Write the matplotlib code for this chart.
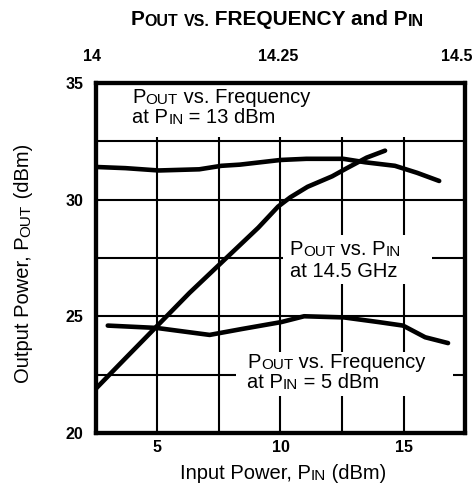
import matplotlib
matplotlib.use("Agg")
import matplotlib.pyplot as plt
import matplotlib.transforms as mtransforms
from matplotlib.patches import Rectangle

plt.rcParams['font.family'] = ['Liberation Sans', 'DejaVu Sans']

# POUT vs. frequency at PIN = 13 dBm (top axis, GHz)
freq_13 = [14.00, 14.04, 14.085, 14.14, 14.17, 14.195, 14.25, 14.285, 14.335, 14.365, 14.405, 14.435, 14.465]
pout_13 = [31.4, 31.35, 31.25, 31.3, 31.45, 31.5, 31.7, 31.75, 31.75, 31.6, 31.45, 31.15, 30.8]

# POUT vs. frequency at PIN = 5 dBm (top axis, GHz)
freq_5 = [14.016, 14.082, 14.154, 14.197, 14.251, 14.282, 14.336, 14.383, 14.416, 14.446, 14.477]
pout_5 = [24.6, 24.5, 24.2, 24.45, 24.75, 25.0, 24.95, 24.75, 24.6, 24.1, 23.85]

# POUT vs. PIN at 14.5 GHz (bottom axis, dBm)
pin = [2.5, 3.7, 5.0, 6.3, 7.5, 8.3, 9.1, 9.9, 10.4, 11.1, 12.1, 12.7, 13.5, 14.25]
pout_pin = [21.9, 23.2, 24.6, 26.0, 27.2, 28.0, 28.8, 29.7, 30.1, 30.55, 31.0, 31.35, 31.8, 32.1]

pin_ticks = [5, 10, 15]
pout_ticks = [20, 25, 30, 35]
freq_ticks = [14, 14.25, 14.5]
freq_labels = ['14', '14.25', '14.5']
grid_x = [5, 7.5, 10, 12.5, 15]
grid_y = [22.5, 25, 27.5, 30, 32.5]

BIG = 14.5
SMALL = 11

fig = plt.figure(figsize=(4.75, 4.97), dpi=100)
ax = fig.add_axes([0.202, 0.129, 0.777, 0.704])
ax.set_xlim(2.5, 17.5)
ax.set_ylim(20, 35)


def rich_text(x, y, runs, transform, vertical=False, **kw):
    # chain text pieces so that "OUT" / "IN" can be set in small caps
    if vertical:
        align = dict(rotation=90, ha='right', va='bottom')
        anchor = (1, 1)
    else:
        align = dict(ha='left', va='baseline')
        anchor = (1, 0)
    s, size = runs[0]
    t = ax.text(x, y, s, fontsize=size, transform=transform, zorder=5, **align, **kw)
    if not vertical:
        align['va'] = 'bottom'
    for s, size in runs[1:]:
        t = ax.annotate(s, xy=anchor, xycoords=t, fontsize=size, zorder=5,
                        annotation_clip=False, **align, **kw)


# grid, broken where the labels sit
ax.hlines(grid_y, 2.5, 17.5, color='black', lw=1.5, zorder=1)
ax.vlines(grid_x, 20, 32.7, color='black', lw=1.5, zorder=1)
ax.add_patch(Rectangle((10.1, 26.4), 6.05, 2.1, facecolor='white', edgecolor='none', zorder=2))
ax.add_patch(Rectangle((8.2, 21.6), 8.8, 1.85, facecolor='white', edgecolor='none', zorder=2))

ax.plot(pin, pout_pin, color='black', lw=3.3, solid_capstyle='round', zorder=3)

ax.set_xticks(pin_ticks)
ax.set_yticks(pout_ticks)
ax.tick_params(axis='x', length=0, labelsize=11.5, pad=5)
ax.tick_params(axis='y', length=0, labelsize=11.5, pad=9)
for lbl in ax.get_xticklabels() + ax.get_yticklabels():
    lbl.set_fontweight('bold')

ax2 = ax.twiny()
ax2.set_xlim(14, 14.5)
ax2.set_xticks(freq_ticks, freq_labels)
ax2.tick_params(length=0, labelsize=11.5, pad=14)
shifts = [-4, -2, -8]
for lbl, dx in zip(ax2.get_xticklabels(), shifts):
    lbl.set_fontweight('bold')
    lbl.set_transform(lbl.get_transform()
                      + mtransforms.ScaledTranslation(dx / 100, 0, fig.dpi_scale_trans))
ax2.plot(freq_13, pout_13, color='black', lw=3.3, solid_capstyle='round')
ax2.plot(freq_5, pout_5, color='black', lw=3.3, solid_capstyle='round')

for a in (ax, ax2):
    for sp in a.spines.values():
        sp.set_linewidth(3)

# labels inside the plot
rich_text(3.98, 34.15, [('P', BIG), ('OUT', SMALL), (' vs. Frequency', BIG)], ax.transData)
rich_text(3.98, 33.28, [('at P', BIG), ('IN', SMALL), (' = 13 dBm', BIG)], ax.transData)
rich_text(10.38, 27.63, [('P', BIG), ('OUT', SMALL), (' vs. P', BIG), ('IN', SMALL)], ax.transData)
rich_text(10.38, 26.69, [('at 14.5 GHz', BIG)], ax.transData)
rich_text(8.66, 22.79, [('P', BIG), ('OUT', SMALL), (' vs. Frequency', BIG)], ax.transData)
rich_text(8.62, 21.93, [('at P', BIG), ('IN', SMALL), (' = 5 dBm', BIG)], ax.transData)

# title and axis labels
rich_text(0.274, 0.950, [('P', 15), ('OUT', 11.5), (' ', 15), ('VS.', 11.5),
                         (' FREQUENCY and P', 15), ('IN', 11.5)],
          fig.transFigure, fontweight='bold')
rich_text(0.379, 0.036, [('Input Power, P', BIG), ('IN', SMALL), (' (dBm)', BIG)], fig.transFigure)
rich_text(0.0695, 0.229, [('Output Power, P', BIG), ('OUT', SMALL), (' (dBm)', BIG)],
          fig.transFigure, vertical=True)

fig.savefig('out.png', dpi=100)
